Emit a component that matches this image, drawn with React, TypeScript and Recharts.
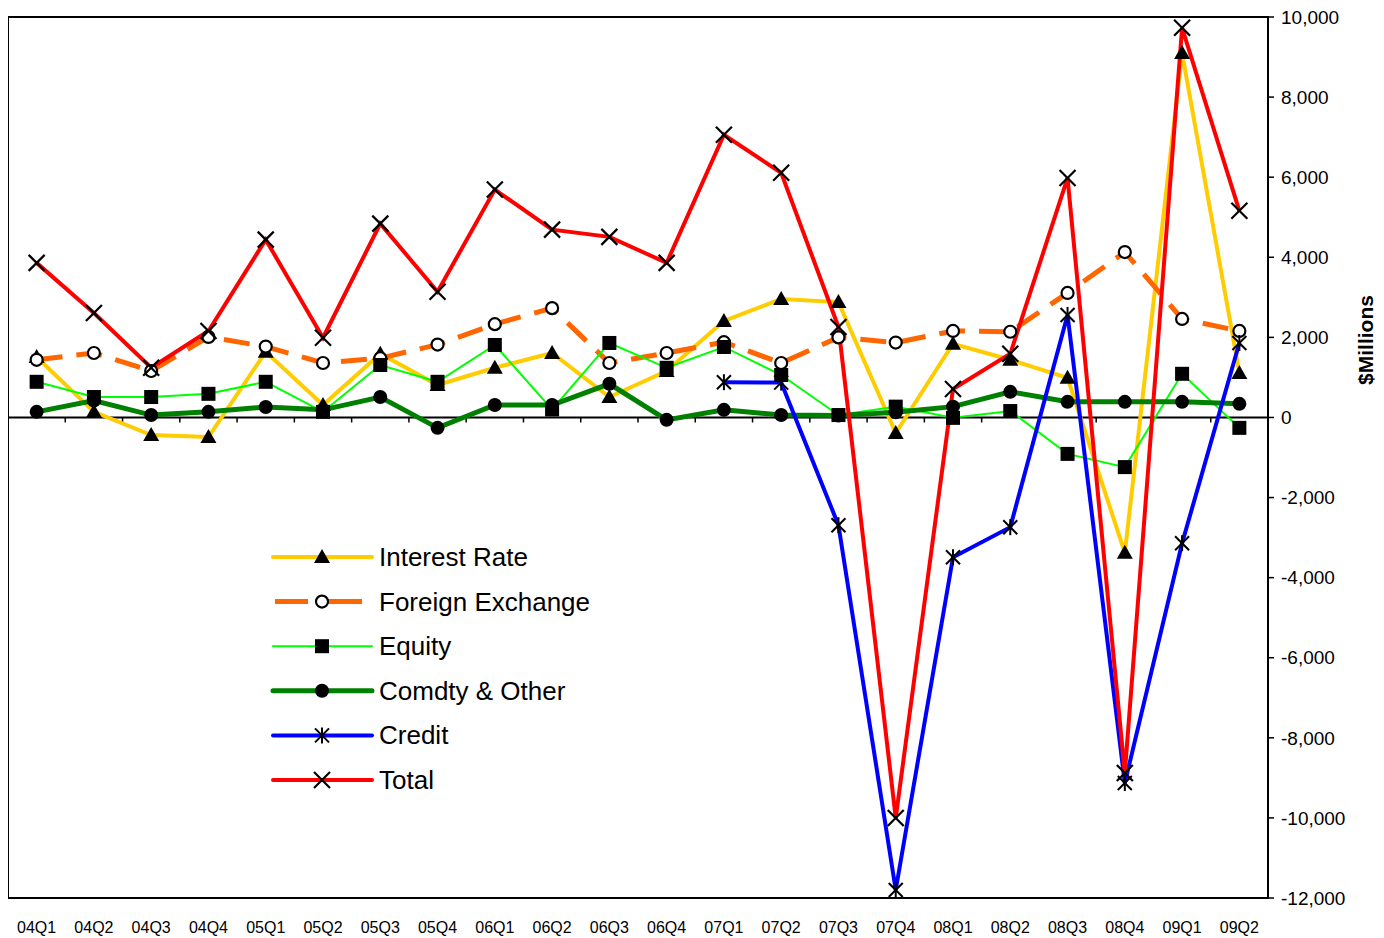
import React from 'react';
import { ComposedChart, Line, XAxis, YAxis, ReferenceLine, ReferenceArea, Legend } from 'recharts';

const quarters = ['04Q1','04Q2','04Q3','04Q4','05Q1','05Q2','05Q3','05Q4','06Q1','06Q2','06Q3','06Q4','07Q1','07Q2','07Q3','07Q4','08Q1','08Q2','08Q3','08Q4','09Q1','09Q2'];
const interestRate = [1510, 140, -440, -490, 1640, 310, 1590, 810, 1240, 1610, 510, 1160, 2410, 2960, 2880, -390, 1840, 1440, 990, -3380, 9100, 1110];
const foreignExchange = [1440, 1610, 1160, 2010, 1770, 1360, 1480, 1820, 2330, 2730, 1360, 1610, 1880, 1360, 2000, 1870, 2160, 2140, 3110, 4130, 2460, 2160];
const equity = [890, 510, 510, 590, 890, 140, 1310, 890, 1810, 200, 1860, 1240, 1760, 1060, 60, 270, -10, 160, -910, -1240, 1090, -260];
const comdtyOther = [140, 420, 60, 140, 260, 190, 510, -260, 310, 310, 840, -60, 190, 60, 50, 130, 270, 640, 390, 390, 390, 340];
const credit = [null, null, null, null, null, null, null, null, null, null, null, null, 880, 870, -2690, -11800, -3490, -2740, 2560, -9130, -3140, 1860];
const total = [3860, 2610, 1240, 2160, 4440, 1990, 4840, 3140, 5690, 4690, 4510, 3860, 7060, 6110, 2260, -10000, 710, 1590, 5980, -8880, 9730, 5160];
const yTicks = [-12000, -10000, -8000, -6000, -4000, -2000, 0, 2000, 4000, 6000, 8000, 10000];
const seriesNames = ['Interest Rate', 'Foreign Exchange', 'Equity', 'Comdty & Other', 'Credit', 'Total'];

const data = quarters.map((q, i) => ({
  q,
  ir: interestRate[i],
  fx: foreignExchange[i],
  eq: equity[i],
  co: comdtyOther[i],
  cr: credit[i],
  tot: total[i],
}));

type Kind = 'triangle' | 'circleOpen' | 'square' | 'circle' | 'asterisk' | 'x';

const Marker = ({ kind, cx, cy }: { kind: Kind; cx: number; cy: number }) => {
  if (cx == null || cy == null || isNaN(cx) || isNaN(cy)) return <g />;
  switch (kind) {
    case 'triangle':
      return <path d={`M${cx},${cy - 8} L${cx + 8},${cy + 6} L${cx - 8},${cy + 6} Z`} fill="#000" />;
    case 'circleOpen':
      return <circle cx={cx} cy={cy} r={6} fill="#fff" stroke="#000" strokeWidth={2.2} />;
    case 'square':
      return <rect x={cx - 7} y={cy - 7} width={14} height={14} fill="#000" />;
    case 'circle':
      return <circle cx={cx} cy={cy} r={7} fill="#000" />;
    case 'asterisk':
      return (
        <g stroke="#000" strokeWidth={2}>
          <line x1={cx - 7} y1={cy - 7} x2={cx + 7} y2={cy + 7} />
          <line x1={cx - 7} y1={cy + 7} x2={cx + 7} y2={cy - 7} />
          <line x1={cx} y1={cy - 8} x2={cx} y2={cy + 8} />
        </g>
      );
    case 'x':
    default:
      return (
        <g stroke="#000" strokeWidth={2.2}>
          <line x1={cx - 8} y1={cy - 8} x2={cx + 8} y2={cy + 8} />
          <line x1={cx - 8} y1={cy + 8} x2={cx + 8} y2={cy - 8} />
        </g>
      );
  }
};

const dotFor = (kind: Kind) => (p: any) => <Marker key={`${kind}-${p.index}`} kind={kind} cx={p.cx} cy={p.cy} />;

const legendItems: { name: string; color: string; width: number; kind: Kind; dashed?: boolean }[] = [
  { name: seriesNames[0], color: '#FFCC00', width: 4, kind: 'triangle' },
  { name: seriesNames[1], color: '#FF6600', width: 5, kind: 'circleOpen', dashed: true },
  { name: seriesNames[2], color: '#00FF00', width: 2, kind: 'square' },
  { name: seriesNames[3], color: '#008000', width: 5, kind: 'circle' },
  { name: seriesNames[4], color: '#0000FF', width: 4, kind: 'asterisk' },
  { name: seriesNames[5], color: '#FF0000', width: 4, kind: 'x' },
];

const renderLegend = () => (
  <svg width={340} height={270} style={{ display: 'block' }}>
    {legendItems.map((it, i) => {
      const y = 27 + i * 44.6;
      return (
        <g key={it.name}>
          {it.dashed ? (
            <g stroke={it.color} strokeWidth={it.width}>
              <line x1={10} y1={y} x2={43} y2={y} />
              <line x1={63} y1={y} x2={97} y2={y} />
            </g>
          ) : (
            <line x1={8} y1={y} x2={107} y2={y} stroke={it.color} strokeWidth={it.width} strokeLinecap="round" />
          )}
          <Marker kind={it.kind} cx={57} cy={y} />
          <text x={114} y={y + 9} fontSize={26} fontFamily="'Liberation Sans', Arial, sans-serif" fill="#000">
            {it.name}
          </text>
        </g>
      );
    })}
  </svg>
);

const ZeroAxis = (props: any) => {
  const { x1, y1, x2, y2 } = props;
  const n = quarters.length;
  const ticks = [];
  for (let i = 0; i <= n; i++) {
    const x = x1 + ((x2 - x1) * i) / n;
    ticks.push(<line key={i} x1={x} x2={x} y1={y1} y2={y1 + 5} stroke="#000" strokeWidth={1.5} />);
  }
  return (
    <g>
      <line x1={x1} y1={y1} x2={x2} y2={y2} stroke="#000" strokeWidth={2} />
      {ticks}
    </g>
  );
};

const fmt = (v: number) => (v === 0 ? '0' : v.toLocaleString('en-US'));

export default function App() {
  return (
    <div style={{ width: 1376, height: 930, position: 'relative', fontFamily: "'Liberation Sans', Arial, sans-serif" }}>
      <ComposedChart width={1376} height={930} data={data} margin={{ top: 9, right: 0, bottom: 0, left: 0 }}>
        <XAxis
          dataKey="q"
          scale="band"
          height={40}
          interval={0}
          axisLine={false}
          tickLine={false}
          tickMargin={18}
          tick={{ fontSize: 16, fill: '#000', fontFamily: "'Liberation Sans', Arial, sans-serif" }}
        />
        <YAxis
          orientation="right"
          width={116}
          domain={[-12000, 10000]}
          ticks={yTicks}
          interval={0}
          tickFormatter={fmt}
          axisLine={{ stroke: '#000', strokeWidth: 2 }}
          tickLine={{ stroke: '#000', strokeWidth: 1.5 }}
          tickSize={6}
          tickMargin={7}
          tick={{ fontSize: 19, fill: '#000', fontFamily: "'Liberation Sans', Arial, sans-serif" }}
          label={{
            content: () => (
              <text
                x={1357}
                y={332}
                transform="rotate(-90 1357 332)"
                textAnchor="middle"
                dominantBaseline="central"
                fontSize={21}
                fontWeight="bold"
                fontFamily="'Liberation Sans Narrow', 'Liberation Sans', Arial, sans-serif"
                fill="#000"
              >
                $Millions
              </text>
            ),
          }}
        />
        <ReferenceArea y1={-12000} y2={10000} fill="none" stroke="#000" strokeWidth={2} />
        <ReferenceLine y={0} shape={ZeroAxis} />
        <Line dataKey="ir" name={seriesNames[0]} stroke="#FFCC00" strokeWidth={4} dot={dotFor('triangle')} isAnimationActive={false} />
        <Line dataKey="fx" name={seriesNames[1]} stroke="#FF6600" strokeWidth={5} strokeDasharray="26 14" dot={dotFor('circleOpen')} isAnimationActive={false} />
        <Line dataKey="eq" name={seriesNames[2]} stroke="#00FF00" strokeWidth={2} dot={dotFor('square')} isAnimationActive={false} />
        <Line dataKey="co" name={seriesNames[3]} stroke="#008000" strokeWidth={5} dot={dotFor('circle')} isAnimationActive={false} />
        <Line dataKey="cr" name={seriesNames[4]} stroke="#0000FF" strokeWidth={4} dot={dotFor('asterisk')} isAnimationActive={false} />
        <Line dataKey="tot" name={seriesNames[5]} stroke="#FF0000" strokeWidth={4} dot={dotFor('x')} isAnimationActive={false} />
        <Legend
          layout="vertical"
          align="center"
          verticalAlign="middle"
          content={renderLegend}
          wrapperStyle={{ position: 'absolute', left: 257, top: 522, width: 340, height: 270 }}
        />
      </ComposedChart>
    </div>
  );
}
